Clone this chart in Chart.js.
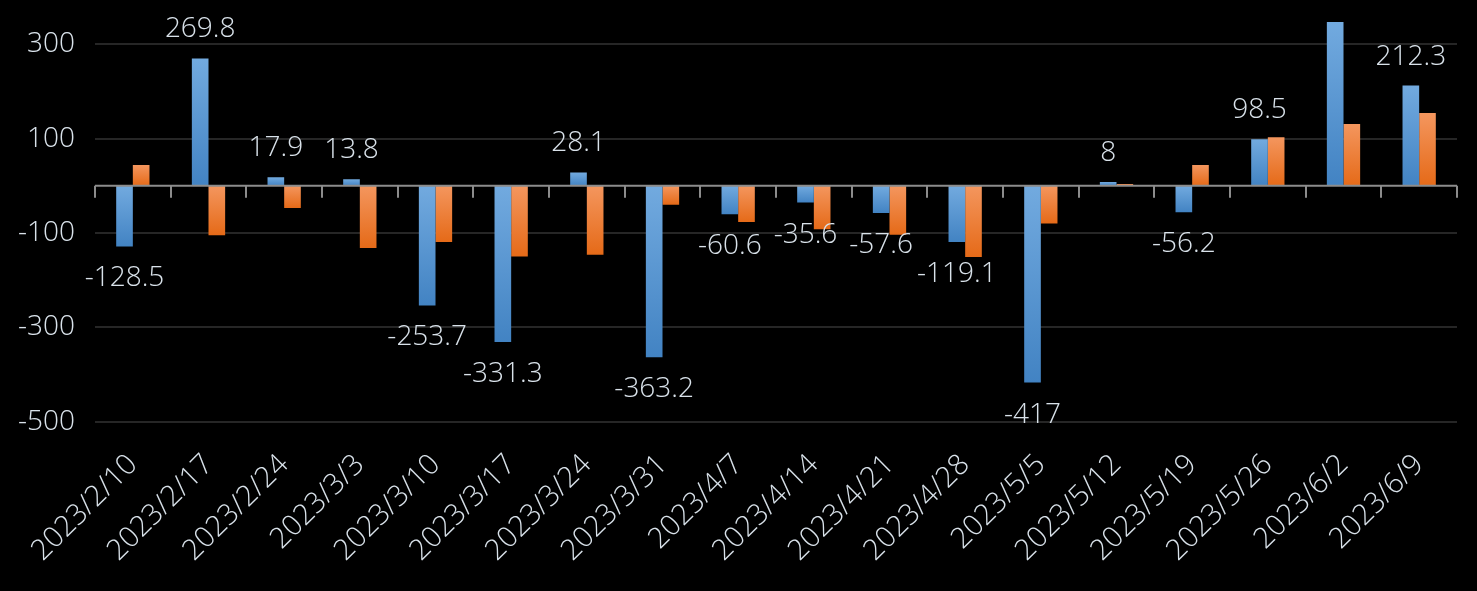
<!DOCTYPE html>
<html>
<head>
<meta charset="utf-8">
<script src="https://cdn.jsdelivr.net/npm/chart.js@4/dist/chart.umd.min.js"></script>
<style>
  html, body { margin: 0; padding: 0; background: #000; }
  #wrap { width: 1477px; height: 591px; }
</style>
</head>
<body>
<div id="wrap"><canvas id="chart"></canvas></div>
<script>
// === data ===
const dates = ['2023/2/10','2023/2/17','2023/2/24','2023/3/3','2023/3/10','2023/3/17','2023/3/24','2023/3/31','2023/4/7',
  '2023/4/14','2023/4/21','2023/4/28','2023/5/5','2023/5/12','2023/5/19','2023/5/26','2023/6/2','2023/6/9'];
const blueValues = [-128.5, 269.8, 17.9, 13.8, -253.7, -331.3, 28.1, -363.2, -60.6,
  -35.6, -57.6, -119.1, -417, 8, -56.2, 98.5, 360, 212.3];
const orangeValues = [44, -105, -47, -132, -119, -150, -146, -40, -77,
  -92, -104, -151, -80, 3.6, 44, 103, 131, 154];
const yTicks = [-500, -300, -100, 100, 300];
const yMin = -500;
const yMax = 347;

const TEXT = '#d9e2ea';
const FONT = "'Open Sans', 'Noto Sans', sans-serif";

// vertical gradient over each bar, light near the top, dark at the bottom
function barFill(light, dark) {
  return (c) => {
    const chart = c.chart;
    const area = chart.chartArea;
    if (!area || c.type !== 'data') return dark;
    const ys = chart.scales.y;
    let a = ys.getPixelForValue(c.raw);
    let b = ys.getPixelForValue(0);
    let top = Math.max(area.top, Math.min(a, b));
    let bot = Math.min(area.bottom, Math.max(a, b));
    if (bot - top < 1) return light;
    const g = chart.ctx.createLinearGradient(0, top, 0, bot);
    g.addColorStop(0, light);
    g.addColorStop(1, dark);
    return g;
  };
}

// zero line with the little category ticks hanging below it
const zeroAxis = {
  id: 'zeroAxis',
  afterDatasetsDraw(chart) {
    const { ctx, chartArea, scales } = chart;
    const y0 = scales.y.getPixelForValue(0);
    const step = (chartArea.right - chartArea.left) / dates.length;
    ctx.save();
    ctx.strokeStyle = '#8c8c8c';
    ctx.lineWidth = 2;
    ctx.beginPath();
    ctx.moveTo(chartArea.left, y0);
    ctx.lineTo(chartArea.right, y0);
    for (let i = 0; i <= dates.length; i++) {
      const x = Math.round(chartArea.left + i * step);
      ctx.moveTo(x, y0);
      ctx.lineTo(x, y0 + 12);
    }
    ctx.stroke();
    ctx.restore();
  }
};

// value labels on the blue series, outside the bar end
const blueLabels = {
  id: 'blueLabels',
  afterDatasetsDraw(chart) {
    const { ctx } = chart;
    const meta = chart.getDatasetMeta(0);
    ctx.save();
    ctx.fillStyle = TEXT;
    ctx.font = '300 28px ' + FONT;
    ctx.textAlign = 'center';
    ctx.textBaseline = 'alphabetic';
    meta.data.forEach((bar, i) => {
      const v = blueValues[i];
      if (v > yMax) return; // bar runs off the top, label is cut away
      const y = v >= 0 ? bar.y - 21 : bar.y + 40;
      ctx.fillText(String(v), bar.x, y);
    });
    ctx.restore();
  }
};

new Chart(document.getElementById('chart'), {
  type: 'bar',
  data: {
    labels: dates,
    datasets: [
      { data: blueValues, backgroundColor: barFill('#72aadf', '#4283c3') },
      { data: orangeValues, backgroundColor: barFill('#f4965e', '#e56a18') },
    ]
  },
  options: {
    responsive: true,
    maintainAspectRatio: false,
    animation: false,
    layout: { padding: { top: 22, right: 20, left: 0, bottom: 0 } },
    datasets: { bar: { categoryPercentage: 0.44, barPercentage: 1 } },
    plugins: { legend: { display: false }, tooltip: { enabled: false } },
    scales: {
      x: {
        grid: { display: false, drawTicks: false },
        border: { display: false },
        ticks: {
          color: TEXT, font: { family: FONT, size: 29, weight: 300 },
          minRotation: 45, maxRotation: 45, autoSkip: false, padding: 26
        },
        afterFit(s) { s.height = 169.3; }
      },
      y: {
        min: yMin, max: yMax,
        afterBuildTicks(s) { s.ticks = yTicks.map(v => ({ value: v })); },
        grid: { color: '#262626', lineWidth: 2, drawTicks: false },
        border: { display: false },
        ticks: { color: TEXT, font: { family: FONT, size: 28, weight: 300 }, padding: 20 },
        afterFit(s) { s.width = 95; s.paddingTop = 0; s.paddingBottom = 0; }
      }
    }
  },
  plugins: [zeroAxis, blueLabels]
});
</script>
</body>
</html>
